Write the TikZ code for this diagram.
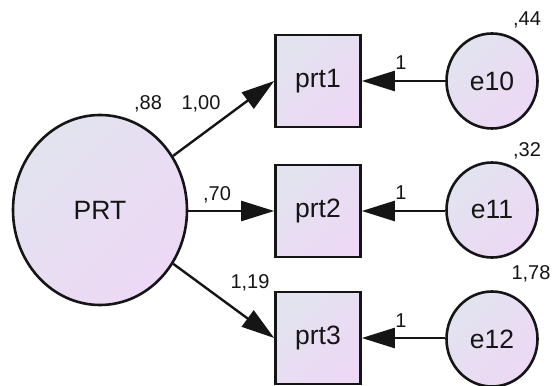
\documentclass[tikz,border=0pt]{standalone}
\usepackage{fontspec}
\setmainfont{Liberation Sans}
\usetikzlibrary{arrows.meta,shapes.geometric}
\definecolor{fillA}{HTML}{E2E3EF}
\definecolor{fillB}{HTML}{EDD8F5}
\definecolor{ink}{HTML}{151515}
\tikzset{
  varfill/.style={top color=fillA, bottom color=fillB, shading angle=45},
  latent/.style={ellipse, draw=ink, line width=2.6pt, varfill, inner sep=0pt,
    font=\fontsize{26.5}{30}\selectfont, text=ink},
  observed/.style={rectangle, draw=ink, line width=2.6pt, varfill, inner sep=0pt,
    minimum width=85pt, minimum height=92pt, font=\fontsize{26.5}{30}\selectfont, text=ink},
  errvar/.style={latent, minimum width=91pt, minimum height=95pt},
  coef/.style={font=\fontsize{20}{24}\selectfont, text=ink, inner sep=0pt},
  path/.style={draw=ink, line width=2.4pt, -{Triangle[length=33pt,width=20pt]}},
}
\begin{document}
\begin{tikzpicture}[x=1pt, y=-1pt]
  \useasboundingbox (0,0) rectangle (556,385);

  % latent factor
  \node[latent, minimum width=174pt, minimum height=190pt] (PRT) at (100,210) {PRT};

  % indicators
  \node[observed] (prt1) at (318,81) {prt1};
  \node[observed] (prt2) at (318,211) {prt2};
  \node[observed] (prt3) at (318,338) {prt3};

  % error terms
  \node[errvar] (e10) at (492,81) {e10};
  \node[errvar] (e11) at (492,210) {e11};
  \node[errvar] (e12) at (492,339) {e12};

  % loadings
  \draw[path] (PRT) -- (prt1.west);
  \draw[path] (PRT.east |- prt2.west) -- (prt2.west);
  \draw[path] (PRT) -- (prt3.west);

  % error paths
  \draw[path] (e10.west) -- (prt1.east);
  \draw[path] (e11.west |- prt2.east) -- (prt2.east);
  \draw[path] (e12.west |- prt3.east) -- (prt3.east);

  % estimates
  \node[coef] (vPRT) at (148,104) {,88};
  \node[coef] (l1) at (201,104) {1,00};
  \node[coef] (l2) at (217,195) {,70};
  \node[coef] (l3) at (250,283) {1,19};
  \node[coef] (v10) at (527,20) {,44};
  \node[coef] (v11) at (527,151) {,32};
  \node[coef] (v12) at (531,274) {1,78};
  \node[coef] (w10) at (401,63) {1};
  \node[coef] (w11) at (401,193) {1};
  \node[coef] (w12) at (401,321) {1};
\end{tikzpicture}
\end{document}
